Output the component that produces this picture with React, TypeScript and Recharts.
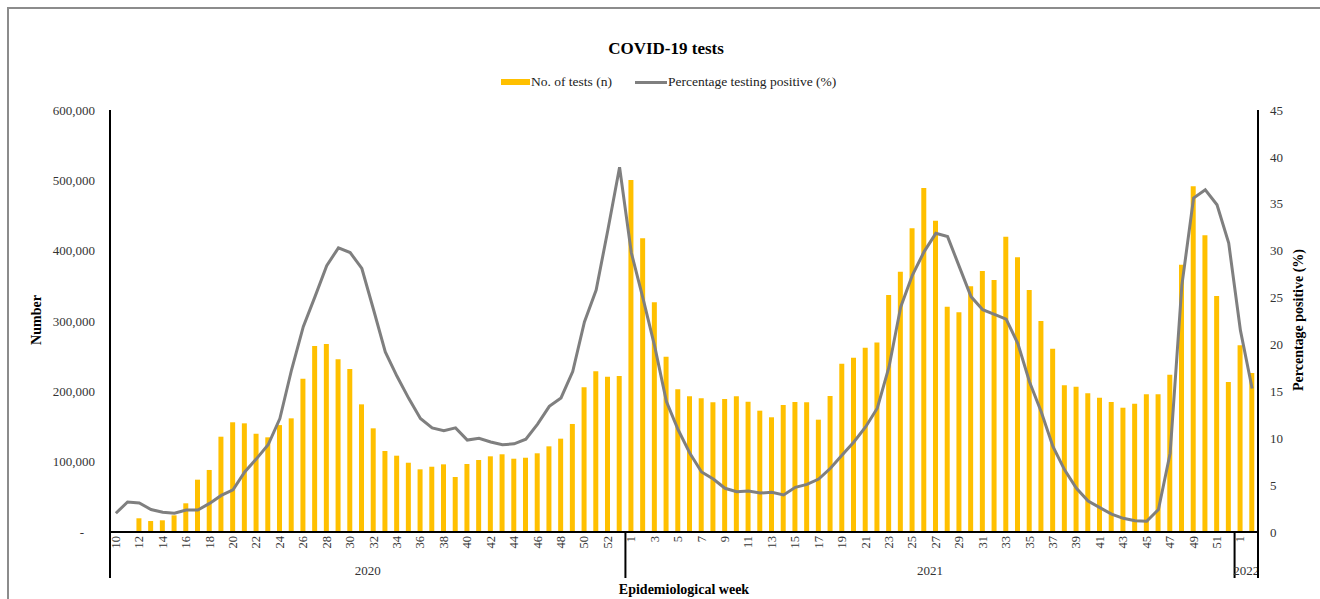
import React from 'react';
import { ComposedChart, Bar, Line, XAxis, YAxis } from 'recharts';

const weekLabels = [
  10, 11, 12, 13, 14, 15, 16, 17, 18, 19, 20, 21, 22, 23, 24, 25, 26, 27, 28, 29, 30, 31,
  32, 33, 34, 35, 36, 37, 38, 39, 40, 41, 42, 43, 44, 45, 46, 47, 48, 49, 50, 51, 52, 53,
  1, 2, 3, 4, 5, 6, 7, 8, 9, 10, 11, 12, 13, 14, 15, 16, 17, 18, 19, 20, 21, 22, 23, 24, 25, 26,
  27, 28, 29, 30, 31, 32, 33, 34, 35, 36, 37, 38, 39, 40, 41, 42, 43, 44, 45, 46, 47, 48, 49, 50, 51, 52,
  1, 2,
];

const yearLabels = [
  ...Array(44).fill('2020'),
  ...Array(52).fill('2021'),
  ...Array(2).fill('2022'),
];

const testsCount = [
  // 2020 w10-53
  0, 1500, 19500, 15600, 16600, 23700, 40800, 74400, 88200, 135500, 156000, 154500, 139800,
  134600, 152000, 161600, 218000, 264500, 267300, 245500, 231800, 181500, 147400, 115200,
  108500, 98500, 89100, 92800, 96200, 78200, 96700, 102400, 107600, 110500, 104200, 105600,
  111900, 121800, 132700, 153600, 205700, 228500, 220800, 221800,
  // 2021 w1-52
  500500, 417500, 326600, 249000, 202900, 192900, 190100, 184400, 189100, 192900,
  185300, 172500, 163100, 180600, 184800, 184400, 159700, 193400, 239300, 247800,
  262000, 269400, 337000, 370200, 431800, 489100, 442700, 320200, 312300, 349300,
  371100, 358300, 419900, 390500, 344100, 300000, 260400, 208500, 206600, 197200,
  191000, 184800, 176700, 182400, 195800, 195800, 223700, 380000, 491500, 421900,
  335500, 213300,
  // 2022 w1-2
  265400, 226100,
];

const pctPositive = [
  // 2020 w10-53
  2.0, 3.2, 3.1, 2.4, 2.1, 2.0, 2.35, 2.35, 3.05, 3.9, 4.5, 6.4, 7.8, 9.3, 12.1, 17.3,
  21.9, 25.1, 28.4, 30.3, 29.8, 28.1, 23.7, 19.2, 16.6, 14.25, 12.1, 11.1, 10.8, 11.1,
  9.8, 10.0, 9.6, 9.3, 9.4, 9.9, 11.5, 13.4, 14.3, 17.1, 22.4, 25.8, 32.2, 38.9,
  // 2021 w1-52
  29.8, 24.9, 19.8, 13.9, 10.9, 8.4, 6.4, 5.65, 4.66, 4.3, 4.37, 4.16, 4.23, 3.95,
  4.76, 5.08, 5.65, 6.8, 8.2, 9.6, 11.2, 13.2, 17.6, 24.0, 27.4, 29.9, 31.85, 31.5,
  28.3, 25.1, 23.7, 23.2, 22.7, 20.1, 16.0, 12.8, 9.1, 6.6, 4.66, 3.3, 2.6, 1.9,
  1.46, 1.2, 1.14, 2.4, 8.4, 26.3, 35.6, 36.5, 34.9, 30.8,
  // 2022 w1-2
  21.5, 15.3,
];

const leftTicks = [0, 100000, 200000, 300000, 400000, 500000, 600000];
const rightTicks = [0, 5, 10, 15, 20, 25, 30, 35, 40, 45];

const rows = weekLabels.map((week, i) => ({
  week,
  year: yearLabels[i],
  tests: testsCount[i],
  pct: pctPositive[i],
}));

const FONT = '"Liberation Serif", "Times New Roman", serif';
const BAR_COLOR = '#FFC000';
const LINE_COLOR = '#7F7F7F';
const PLOT_W = 1148;
const BAND = PLOT_W / rows.length;

function WeekTick(props: any) {
  const { x, y, payload } = props;
  const i = payload.index;
  const row = rows[i];
  const half = BAND / 2;
  const parts: React.ReactNode[] = [];

  if (i % 2 === 0) {
    parts.push(
      <text
        key="w"
        x={x}
        y={y + 4}
        transform={`rotate(-90 ${x} ${y + 4})`}
        textAnchor="end"
        dominantBaseline="central"
        fontSize={12.5}
        fontFamily={FONT}
        fill="#333"
      >
        {row.week}
      </text>
    );
  }

  // year separators
  if (i === 0 || rows[i - 1].year !== row.year) {
    parts.push(<line key="s" x1={x - half} x2={x - half} y1={y} y2={y + 46} stroke="#000" strokeWidth={2} />);
  }
  if (i === rows.length - 1) {
    parts.push(<line key="e" x1={x + half} x2={x + half} y1={y} y2={y + 46} stroke="#000" strokeWidth={2} />);
  }

  // year label in the middle of its group
  const first = yearLabels.indexOf(row.year);
  const last = yearLabels.lastIndexOf(row.year);
  const mid = (first + last) / 2;
  if (i === Math.floor(mid)) {
    const cx = x + (mid - i) * BAND;
    parts.push(
      <text
        key="y"
        x={cx}
        y={y + 38}
        textAnchor="middle"
        dominantBaseline="central"
        fontSize={13}
        fontFamily={FONT}
        fill="#333"
      >
        {row.year}
      </text>
    );
  }

  return <g>{parts}</g>;
}

function NumberTick(props: any) {
  const { x, y, payload } = props;
  const v = payload.value as number;
  const zero = v === 0;
  return (
    <text
      x={zero ? x - 11 : x}
      y={y}
      textAnchor="end"
      dominantBaseline="central"
      fontSize={13}
      fontFamily={FONT}
      fill="#333"
    >
      {zero ? '-' : v.toLocaleString('en-US')}
    </text>
  );
}

export default function App() {
  return (
    <div style={{ position: 'absolute', left: 0, top: 0, width: 1320, height: 599, background: '#fff', fontFamily: FONT, overflow: 'hidden' }}>
      <div style={{ position: 'absolute', left: 7, top: 7, right: -5, bottom: -5, borderTop: '2px solid #8c8c8c', borderLeft: '2px solid #8c8c8c' }} />

      <div style={{ position: 'absolute', left: 0, width: 1332, top: 39, textAlign: 'center', fontSize: 17, fontWeight: 'bold', color: '#000' }}>
        COVID-19 tests
      </div>

      <div style={{ position: 'absolute', top: 74, left: 501, display: 'flex', alignItems: 'center', fontSize: 13.5, color: '#222' }}>
        <span style={{ display: 'inline-block', width: 29, height: 6, background: BAR_COLOR, marginRight: 1 }} />
        <span>No. of tests (n)</span>
        <span style={{ display: 'inline-block', width: 32, height: 3, background: LINE_COLOR, marginLeft: 23, marginRight: 1 }} />
        <span>Percentage testing positive (%)</span>
      </div>

      <div style={{ position: 'absolute', left: 37, top: 320, transform: 'translate(-50%, -50%) rotate(-90deg)', fontSize: 14, fontWeight: 'bold', whiteSpace: 'nowrap' }}>
        Number
      </div>
      <div style={{ position: 'absolute', left: 1299, top: 320, transform: 'translate(-50%, -50%) rotate(-90deg)', fontSize: 14, fontWeight: 'bold', whiteSpace: 'nowrap' }}>
        Percentage positive (%)
      </div>
      <div style={{ position: 'absolute', left: 684, top: 590, transform: 'translate(-50%, -50%)', fontSize: 14, fontWeight: 'bold', whiteSpace: 'nowrap' }}>
        Epidemiological week
      </div>

      <div style={{ position: 'absolute', left: 0, top: 0 }}>
        <ComposedChart width={1320} height={599} data={rows} margin={{ top: 110, right: 0, bottom: 0, left: 0 }}>
          <XAxis
            dataKey="week"
            xAxisId="x"
            interval={0}
            height={67}
            tickSize={0}
            tickMargin={0}
            tickLine={false}
            axisLine={{ stroke: '#000', strokeWidth: 2 }}
            tick={<WeekTick />}
          />
          <YAxis
            yAxisId="left"
            width={110}
            domain={[0, 600000]}
            ticks={leftTicks}
            tickSize={0}
            tickMargin={15}
            tickLine={false}
            axisLine={{ stroke: '#000', strokeWidth: 2 }}
            tick={<NumberTick />}
          />
          <YAxis
            yAxisId="right"
            orientation="right"
            width={62}
            domain={[0, 45]}
            ticks={rightTicks}
            tickSize={0}
            tickMargin={12}
            tickLine={false}
            axisLine={{ stroke: '#000', strokeWidth: 2 }}
            tick={{ fontSize: 13, fontFamily: FONT, fill: '#333', textAnchor: 'start' }}
          />
          <Bar
            xAxisId="x"
            yAxisId="left"
            dataKey="tests"
            name="No. of tests (n)"
            fill={BAR_COLOR}
            barSize={5}
            isAnimationActive={false}
          />
          <Line
            xAxisId="x"
            yAxisId="right"
            type="linear"
            dataKey="pct"
            name="Percentage testing positive (%)"
            stroke={LINE_COLOR}
            strokeWidth={3}
            dot={false}
            activeDot={false}
            isAnimationActive={false}
          />
        </ComposedChart>
      </div>
    </div>
  );
}
